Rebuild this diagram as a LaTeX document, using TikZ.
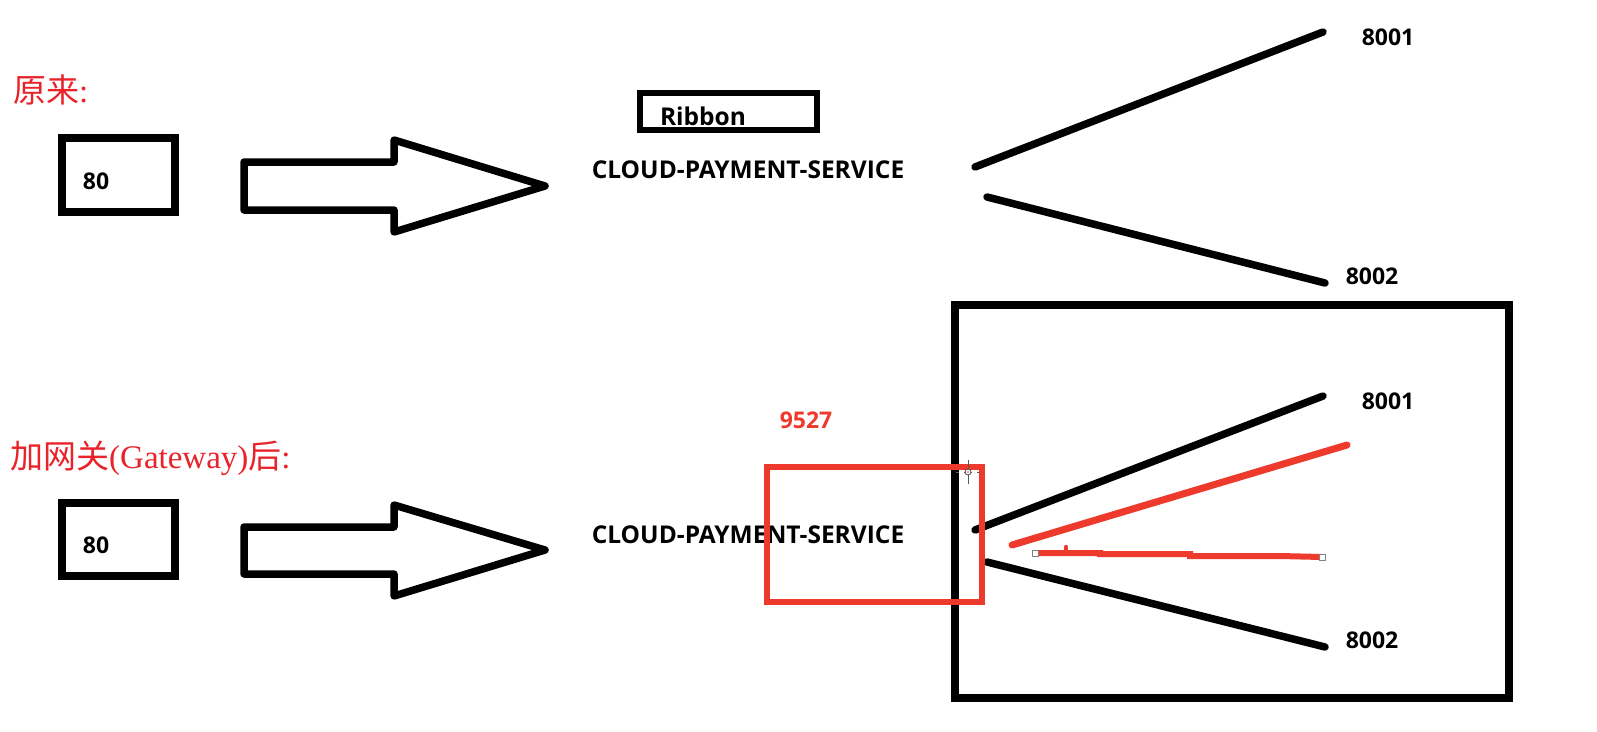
\documentclass[tikz,border=0pt]{standalone}
\usepackage{fontspec}
\setmainfont{Liberation Serif}
\newfontfamily\lblfont{Open Sans}[BoldFont={Open Sans Bold}]
\newfontfamily\cjk{Noto Sans CJK SC}
\definecolor{hred}{HTML}{E8232A}
\definecolor{pred}{HTML}{EE3A2C}
\tikzset{
  blk/.style={line width=7.5pt, line cap=round, line join=round},
  boxst/.style={draw, line width=7.5pt},
  lbl/.style={font=\lblfont\bfseries\fontsize{24.5}{24.5}\selectfont, inner sep=0pt},
  num/.style={font=\lblfont\bfseries\fontsize{23}{23}\selectfont, inner sep=0pt},
  head/.style={text=hred, font=\fontsize{33}{33}\selectfont, inner sep=0pt, anchor=west},
  redl/.style={draw=pred, line width=7pt, line cap=round},
  handle/.style={draw=gray, fill=white, line width=0.8pt, minimum size=6pt, inner sep=0pt},
}
\begin{document}
\begin{tikzpicture}[x=1pt,y=-1pt]
\useasboundingbox (0,0) rectangle (1597,731);
\fill[white] (0,0) rectangle (1597,731);

% headings
\node[head] (h1) at (13,90) {{\cjk 原来}:};
\node[head] (h2) at (10,458) {{\cjk 加网关}(Gateway){\cjk 后}:};

% top row
\draw[boxst] (62,138) rectangle (175,212);
\node[num] (c1) at (96,181) {80};
\draw[blk] (244,162) -- (394,162) -- (394,140) -- (545,186) -- (394,232) -- (394,210) -- (244,210) -- cycle;
\draw[line width=6.5pt] (640,93) rectangle (817,130);
\node[lbl] (rib) at (703,116) {Ribbon};
\node[lbl] (s1) at (748,170) {CLOUD-PAYMENT-SERVICE};
\coordinate (a1) at (975,167);
\coordinate (a2) at (1323,32);
\coordinate (b1) at (987,197);
\coordinate (b2) at (1325,283);
\draw[blk] (a1) -- (a2);
\draw[blk] (b1) -- (b2);
\node[num] (p1) at (1388,37) {8001};
\node[num] (p2) at (1372,276) {8002};

% bottom row
\draw[boxst] (62,503) rectangle (175,576);
\node[num] (c2) at (96,545) {80};
\draw[blk] (244,527) -- (394,527) -- (394,505) -- (545,550) -- (394,596) -- (394,574) -- (244,574) -- cycle;
\node[lbl] (s2) at (748,535) {CLOUD-PAYMENT-SERVICE};

\draw[boxst] (955,305) rectangle (1509,698);
\coordinate (c1a) at (975,530);
\coordinate (c1b) at (1323,396);
\coordinate (d1a) at (987,562);
\coordinate (d1b) at (1325,647);
\draw[blk] (c1a) -- (c1b);
\draw[blk] (d1a) -- (d1b);
\node[num] (q1) at (1388,401) {8001};
\node[num] (q2) at (1372,640) {8002};

% gateway
\node[text=pred, font=\lblfont\bfseries\fontsize{23}{23}\selectfont, inner sep=0pt] (g) at (806,420) {9527};
\draw[draw=pred, line width=6.5pt] (767,467) rectangle (982,602);
\coordinate (r1a) at (1012,545);
\coordinate (r1b) at (1347,445);
\draw[redl] (r1a) -- (r1b);
\coordinate (r2a) at (1035,553);
\coordinate (r2b) at (1322,557);
\draw[draw=pred, line width=6pt] (r2a) -- (1100,553) -- (1100,554) -- (1190,554) -- (1190,556) -- (1280,556) -- (r2b);
\draw[draw=pred, line width=4.5pt, line cap=round] (1066,553) -- (1066,547);
\node[handle] (hA) at (r2a) {};
\node[handle] (hB) at (r2b) {};

% cursor
\coordinate (cur) at (968,472);
\draw[gray!70!black, line width=1pt] ([xshift=-12pt]cur) -- ([xshift=12pt]cur) ([yshift=-12pt]cur) -- ([yshift=12pt]cur);
\draw[white, line width=1.5pt] ([xshift=-9pt]cur) -- ([xshift=-4pt]cur) ([xshift=4pt]cur) -- ([xshift=9pt]cur);
\draw[gray!60!black, fill=white, line width=0.8pt] (cur) circle (3pt);
\fill[pred] (cur) circle (0.8pt);
\end{tikzpicture}
\end{document}
